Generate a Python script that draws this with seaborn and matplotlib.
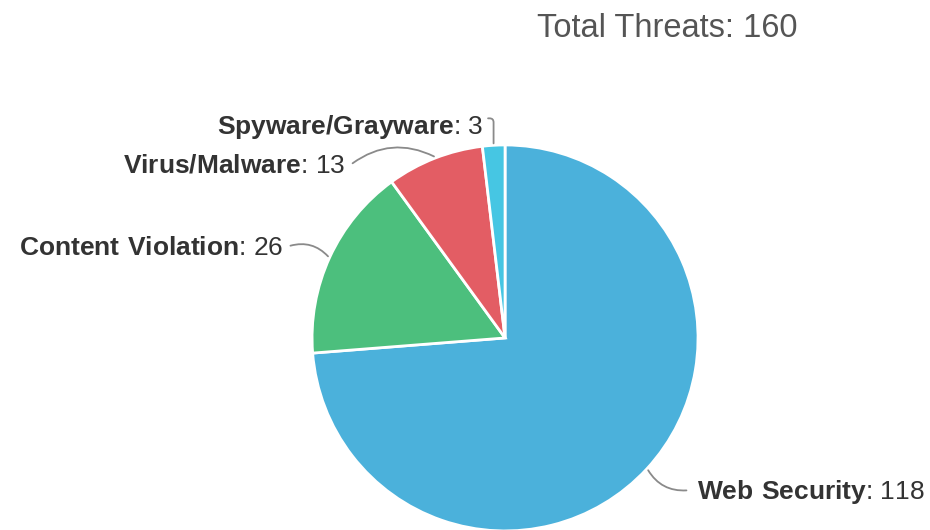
import numpy as np
import matplotlib.pyplot as plt
import seaborn as sns

# --- DATA ---
categories = ["Web Security", "Content Violation", "Virus/Malware", "Spyware/Grayware"]
counts = [118, 26, 13, 3]
colors = ["#4bb1db", "#4cbf7d", "#e35d64", "#46c6e3"]
title_text = f"Total Threats: {sum(counts)}"

# label layout (data units, pie radius = 1)
label_pos = [(0.995, -0.800), (-1.150, 0.466), (-0.829, 0.896), (-0.114, 1.093)]
label_ha = ["left", "right", "right", "right"]
conn_start = [(0.940, -0.790), (-1.112, 0.478), (-0.790, 0.905), (-0.088, 1.138)]
conn_style = ["arc3,rad=-0.3", "arc3,rad=-0.3", "arc3,rad=-0.3",
              "angle,angleA=0,angleB=90,rad=4"]

sns.set_theme(style="white")
plt.rcParams["font.family"] = ["Liberation Sans", "DejaVu Sans"]
plt.rcParams["mathtext.fontset"] = "custom"
plt.rcParams["mathtext.rm"] = "Liberation Sans"
plt.rcParams["mathtext.bf"] = "Liberation Sans:bold"

fig = plt.figure(figsize=(9.3, 5.3), dpi=100)
ax = fig.add_axes([0, 0, 1, 1])

wedges, _ = ax.pie(counts, colors=colors, startangle=90, counterclock=False,
                   radius=1, center=(0, 0),
                   wedgeprops=dict(edgecolor="white", linewidth=2))

for w, name, n, pos, ha, cs, style in zip(wedges, categories, counts, label_pos,
                                          label_ha, conn_start, conn_style):
    mid = np.deg2rad((w.theta1 + w.theta2) / 2)
    edge = (1.01 * np.cos(mid), 1.01 * np.sin(mid))
    ax.annotate("", xy=edge, xytext=cs,
                arrowprops=dict(arrowstyle="-", color="#8a8a8a", lw=1.3,
                                shrinkA=0, shrinkB=0, connectionstyle=style))
    label = r"$\bf{" + name.replace(" ", r"\ ") + "}$: " + str(n)
    ax.text(pos[0], pos[1], label, ha=ha, va="center", fontsize=19, color="#333333")

ax.text(0.839, 1.605, title_text, ha="center", va="center", fontsize=23.5, color="#555555")

ax.set_xlim(-2.617, 2.202)
ax.set_ylim(-0.995, 1.751)
ax.set_aspect("equal")
ax.axis("off")

fig.savefig("out.png", dpi=100)
